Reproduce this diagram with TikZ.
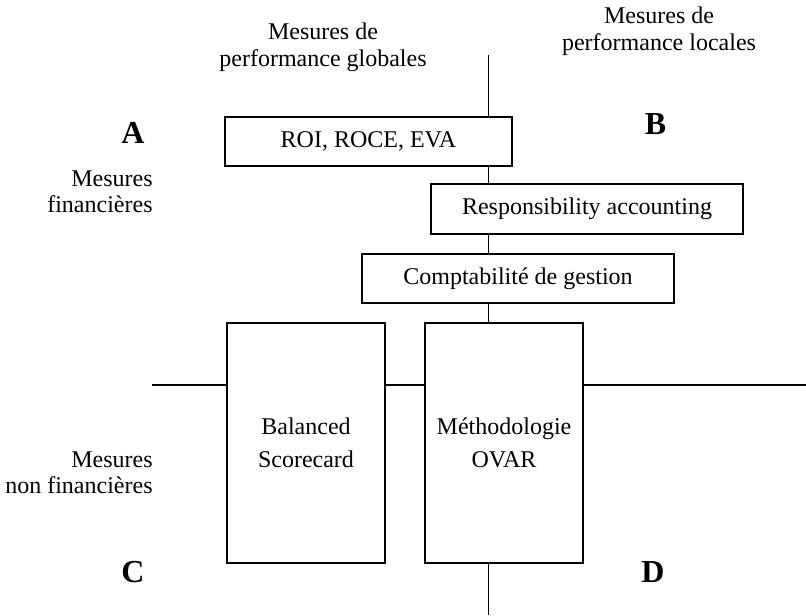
\documentclass[tikz,border=0pt]{standalone}
\usepackage{fontspec}
\setmainfont{Liberation Serif}
\tikzset{
casebox/.style={draw, fill=white, line width=0.75pt, inner sep=0pt, align=center,
  font={\fontsize{12}{16.5}\selectfont}},
axisline/.style={line width=0.6pt},
sidelabel/.style={inner sep=0pt, align=right, anchor=east,
  font={\fontsize{12}{12.8}\selectfont}},
toplabel/.style={inner sep=0pt, align=center,
  font={\fontsize{12}{13.3}\selectfont}},
quadrant/.style={inner sep=0pt, font={\fontsize{16}{19}\selectfont\bfseries}}
}

\begin{document}
\begin{tikzpicture}[x=0.5pt,y=-0.5pt]
\useasboundingbox (0,0) rectangle (806,615);
% axes
\coordinate (vtop) at (488.5,55);
\coordinate (vbot) at (488.5,615);
\coordinate (hleft) at (152,385);
\coordinate (hright) at (806,385);
\draw[axisline] (vtop) -- (vbot);
\draw[axisline] (hleft) -- (hright);
% boxes
\node[casebox, minimum width=143.5pt, minimum height=24.5pt] (roi) at (368.5,141.5) {ROI, ROCE, EVA};
\node[casebox, minimum width=156pt, minimum height=25pt] (resp) at (587,209) {Responsibility accounting};
\node[casebox, minimum width=156pt, minimum height=24.5pt] (compta) at (518,278.5) {Comptabilité de gestion};
\node[casebox, minimum width=79pt, minimum height=120pt] (bsc) at (306,443) {Balanced\\Scorecard};
\node[casebox, minimum width=79pt, minimum height=120pt] (ovar) at (504,443) {Méthodologie\\OVAR};
% labels
\node[toplabel] (globales) at (323,47.4) {Mesures de\\performance globales};
\node[toplabel] (locales) at (659,31) {Mesures de\\performance locales};
\node[sidelabel] (fin) at (153,192) {Mesures\\financières};
\node[sidelabel] (nonfin) at (153,473) {Mesures\\non financières};
\node[quadrant] (qa) at (133,132.5) {A};
\node[quadrant] (qb) at (655.5,124) {B};
\node[quadrant] (qc) at (133,572) {C};
\node[quadrant] (qd) at (653,572) {D};
\end{tikzpicture}
\end{document}
